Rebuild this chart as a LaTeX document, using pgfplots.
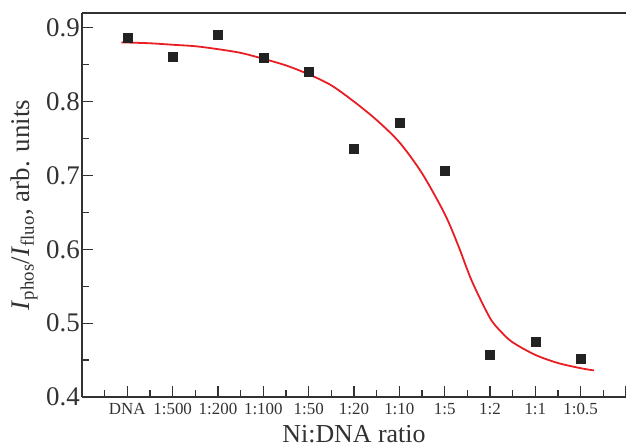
\documentclass[border=0pt]{standalone}
\usepackage{pgfplots}
\pgfplotsset{compat=1.18}
\usepackage{fontspec}
\setmainfont{Liberation Serif}
\definecolor{axgray}{RGB}{50,50,50}
\definecolor{mk}{RGB}{34,34,34}
\definecolor{fitred}{RGB}{232,30,36}
\begin{document}
\begin{tikzpicture}
\begin{axis}[
  name=ax,
  scale only axis,
  width=544bp, height=384bp,
  xmin=-1, xmax=11,
  ymin=0.4, ymax=0.92,
  axis lines=left,
  axis line style={-, axgray, line width=1.3bp},
  tick style={axgray, line width=1.2bp},
  tick align=inside,
  major tick length=11bp,
  minor tick length=7bp,
  xtick={-1,0,1,2,3,4,5,6,7,8,9,10,11},
  xticklabels={,DNA,1:500,1:200,1:100,1:50,1:20,1:10,1:5,1:2,1:1,1:0.5,},
  minor x tick num=1,
  ytick={0.4,0.5,0.6,0.7,0.8,0.9},
  minor y tick num=1,
  /pgf/number format/assume math mode=true,
  /pgf/number format/fixed,
  /pgf/number format/precision=1,
  /pgf/number format/fixed zerofill,
  xticklabel style={inner sep=0pt, font=\fontsize{17}{17}\selectfont, color=axgray},
  xticklabel shift=6bp,
  yticklabel style={inner sep=0pt, font=\fontsize{27}{27}\selectfont, color=axgray},
  yticklabel shift=2bp,
  xlabel={Ni:DNA ratio},
  xlabel style={at={(rel axis cs:0.5,-0.096)}, anchor=center, inner sep=0pt, font=\fontsize{26}{26}\selectfont, color=axgray},
  ylabel={\textit{I}\textsubscript{phos}/\textit{I}\textsubscript{fluo}, arb. units},
  ylabel style={at={(rel axis cs:-0.1066,0.5)}, anchor=center, inner sep=0pt, font=\fontsize{27}{27}\selectfont, color=axgray},
]
\addplot[fitred, line width=1.8bp, smooth, tension=0.5] coordinates {
(-0.13,0.880) (0,0.880) (0.5,0.879) (1,0.877) (1.5,0.875) (2,0.871) (2.5,0.866)
(3,0.858) (3.5,0.849) (4,0.837) (4.5,0.822) (5,0.800) (5.5,0.775) (6,0.745)
(6.5,0.703) (7,0.648) (7.3,0.605) (7.6,0.557) (8,0.507) (8.25,0.488) (8.5,0.474) (9,0.457)
(9.5,0.446) (10,0.439) (10.29,0.436)
};
\addplot[only marks, mark=square*, mark size=4.5bp, mark options={fill=mk, draw=mk}] coordinates {
(0,0.887) (1,0.861) (2,0.891) (3,0.860) (4,0.841) (5,0.736)
(6,0.771) (7,0.707) (8,0.457) (9,0.475) (10,0.452)
};
\end{axis}
\draw[axgray, line width=1.3bp] (ax.north west) -- (ax.north east);
\pgfresetboundingbox
\path ([shift={(-82bp,-51bp)}]ax.south west) rectangle ([shift={(0bp,13bp)}]ax.north east);
\end{tikzpicture}
\end{document}
